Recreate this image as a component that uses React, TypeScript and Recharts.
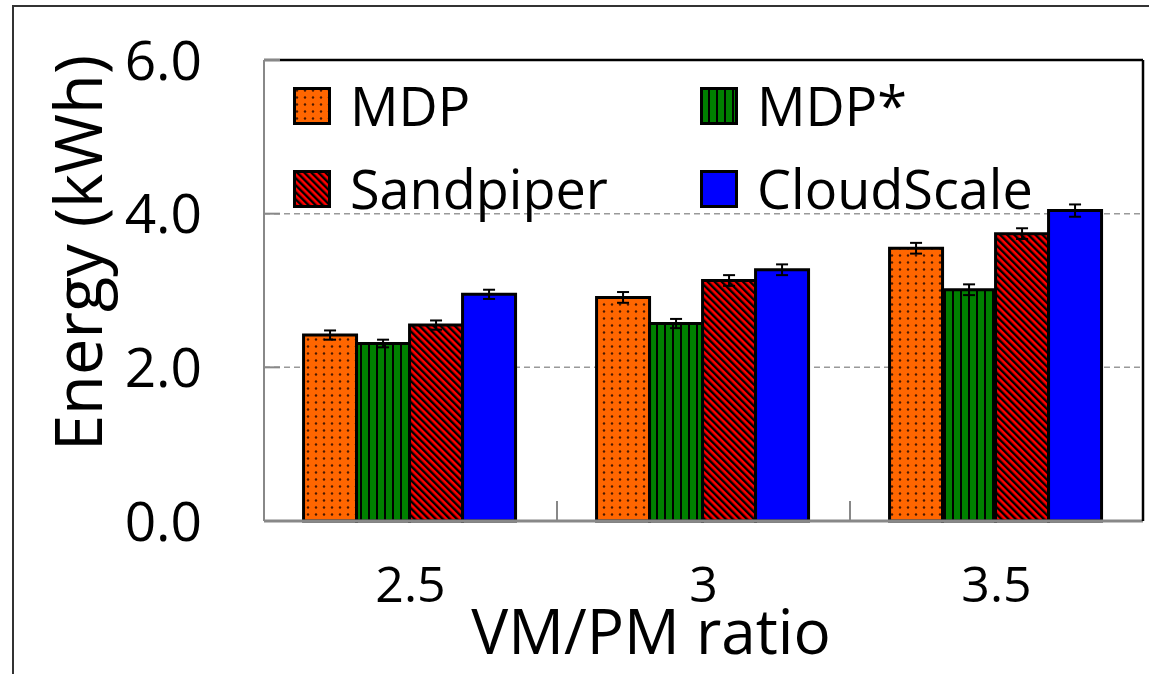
import React from "react";
import { Bar, BarChart, CartesianGrid, ErrorBar, Legend, ReferenceLine, XAxis, YAxis } from "recharts";

// VM/PM ratio groups
const ratios = ["2.5", "3", "3.5"];

// energy in kWh
const mdp = [2.42, 2.91, 3.55];
const mdpStar = [2.31, 2.57, 3.01];
const sandpiper = [2.55, 3.13, 3.74];
const cloudScale = [2.95, 3.27, 4.04];

// error bar half-ranges
const mdpErr = [0.06, 0.07, 0.07];
const mdpStarErr = [0.05, 0.06, 0.07];
const sandpiperErr = [0.06, 0.07, 0.07];
const cloudScaleErr = [0.06, 0.07, 0.08];

const yTicks = [0, 2, 4, 6];
const gridValues = [2, 4];
const yMax = 6;

const data = ratios.map((ratio, i) => ({
  ratio,
  mdp: mdp[i],
  mdpErr: mdpErr[i],
  mdpStar: mdpStar[i],
  mdpStarErr: mdpStarErr[i],
  sandpiper: sandpiper[i],
  sandpiperErr: sandpiperErr[i],
  cloudScale: cloudScale[i],
  cloudScaleErr: cloudScaleErr[i],
}));

const FONT = "'Open Sans', 'Noto Sans', sans-serif";

function Patterns({ p }: { p: string }) {
  return (
    <defs>
      <pattern id={`${p}-dots`} patternUnits="userSpaceOnUse" width={8} height={7}>
        <rect width={8} height={7} fill="#FF6600" />
        <circle cx={4} cy={3.5} r={1.2} fill="#4a1800" />
      </pattern>
      <pattern id={`${p}-vlines`} patternUnits="userSpaceOnUse" width={8} height={8}>
        <rect width={8} height={8} fill="#008000" />
        <rect x={0} width={2} height={8} fill="#000" />
      </pattern>
      <pattern id={`${p}-diag`} patternUnits="userSpaceOnUse" width={5} height={5} patternTransform="rotate(-45)">
        <rect width={5} height={5} fill="#FF0000" />
        <rect width={2.4} height={5} fill="#000" />
      </pattern>
    </defs>
  );
}

const series = [
  { key: "mdp", name: "MDP", fill: "dots" },
  { key: "mdpStar", name: "MDP*", fill: "vlines" },
  { key: "sandpiper", name: "Sandpiper", fill: "diag" },
  { key: "cloudScale", name: "CloudScale", fill: "" },
];

const fillFor = (p: string, f: string) => (f ? `url(#${p}-${f})` : "#0000FF");

const YTick = (props: any) => {
  const { x, y, payload } = props;
  return (
    <g>
      <line x1={x} x2={x + 16} y1={y} y2={y} stroke="#888" strokeWidth={2} />
      <text x={x - 62} y={y} dy="0.36em" textAnchor="end" fontSize={55} fill="#000" fontFamily={FONT}>
        {Number(payload.value).toFixed(1)}
      </text>
    </g>
  );
};

const XTick = (props: any) => {
  const { x, y, payload, index } = props;
  const half = payload.offset || (props.width ? props.width / ratios.length / 2 : 146.5);
  return (
    <g>
      {index < ratios.length - 1 && (
        <line x1={x + half} x2={x + half} y1={y} y2={y - 20} stroke="#888" strokeWidth={2} />
      )}
      <text x={x} y={y + 81} textAnchor="middle" fontSize={50} fill="#000" fontFamily={FONT}>
        {payload.value}
      </text>
    </g>
  );
};

const LegendBox = () => {
  const cols = [0, 407];
  const rows = [0, 83];
  return (
    <div style={{ position: "relative", width: 800, height: 130, fontFamily: FONT }}>
      {series.map((s, i) => (
        <div
          key={s.key}
          style={{
            position: "absolute",
            left: cols[i % 2],
            top: rows[Math.floor(i / 2)],
            display: "flex",
            alignItems: "center",
            height: 37,
          }}
        >
          <svg width={38} height={38} style={{ display: "block" }}>
            <Patterns p={`lg${i}`} />
            <rect x={1.5} y={1.5} width={35} height={35} fill={fillFor(`lg${i}`, s.fill)} stroke="#000" strokeWidth={3} />
          </svg>
          <span style={{ marginLeft: 19, fontSize: 54, lineHeight: "37px", color: "#000", whiteSpace: "nowrap" }}>{s.name}</span>
        </div>
      ))}
    </div>
  );
};

export default function App() {
  return (
    <div
      style={{
        position: "absolute",
        left: 0,
        top: 0,
        width: 1149,
        height: 674,
        overflow: "hidden",
        background: "#fff",
        fontFamily: FONT,
      }}
    >
      <div
        style={{
          position: "absolute",
          left: 12,
          top: 5,
          width: 2000,
          height: 2000,
          border: "2px solid #333",
        }}
      />
      <div style={{ position: "absolute", left: 0, top: 0 }}>
        <BarChart
          width={1149}
          height={674}
          data={data}
          margin={{ top: 60, right: 4, left: 0, bottom: 0 }}
          barCategoryGap="13.5%"
          barGap={0}
        >
          <Patterns p="c" />
          <CartesianGrid
            vertical={false}
            horizontalValues={gridValues}
            stroke="#999"
            strokeWidth={1.5}
            strokeDasharray="6 4"
          />
          <ReferenceLine y={yMax} stroke="#000" strokeWidth={2.5} />
          <XAxis
            dataKey="ratio"
            height={153}
            tickSize={0}
            tickMargin={0}
            tickLine={false}
            axisLine={{ stroke: "#888", strokeWidth: 3 }}
            tick={<XTick />}
            interval={0}
            label={() => (
              <text x={651} y={654} textAnchor="middle" fontSize={62} fill="#000" fontFamily={FONT}>
                VM/PM ratio
              </text>
            )}
          />
          <YAxis
            width={264}
            domain={[0, yMax]}
            ticks={yTicks}
            tickSize={0}
            tickMargin={0}
            tickLine={false}
            axisLine={{ stroke: "#888", strokeWidth: 2 }}
            tick={<YTick />}
            label={() => (
              <text
                x={102}
                y={253}
                transform="rotate(-90, 102, 253)"
                textAnchor="middle"
                fontSize={65}
                fill="#000"
                fontFamily={FONT}
              >
                Energy (kWh)
              </text>
            )}
          />
          <YAxis
            yAxisId="right"
            orientation="right"
            width={2}
            domain={[0, yMax]}
            ticks={yTicks}
            tick={false}
            tickLine={false}
            axisLine={{ stroke: "#000", strokeWidth: 2.5 }}
          />
          <Legend
            layout="horizontal"
            verticalAlign="middle"
            align="center"
            content={<LegendBox />}
            wrapperStyle={{ left: 293, top: 87, width: 800, height: 130 }}
          />
          {series.map((s) => (
            <Bar
              key={s.key}
              dataKey={s.key}
              name={s.name}
              fill={fillFor("c", s.fill)}
              stroke="#000"
              strokeWidth={3}
              isAnimationActive={false}
            >
              <ErrorBar dataKey={`${s.key}Err`} width={6} strokeWidth={2} stroke="#000" direction="y" />
            </Bar>
          ))}
        </BarChart>
      </div>
    </div>
  );
}
